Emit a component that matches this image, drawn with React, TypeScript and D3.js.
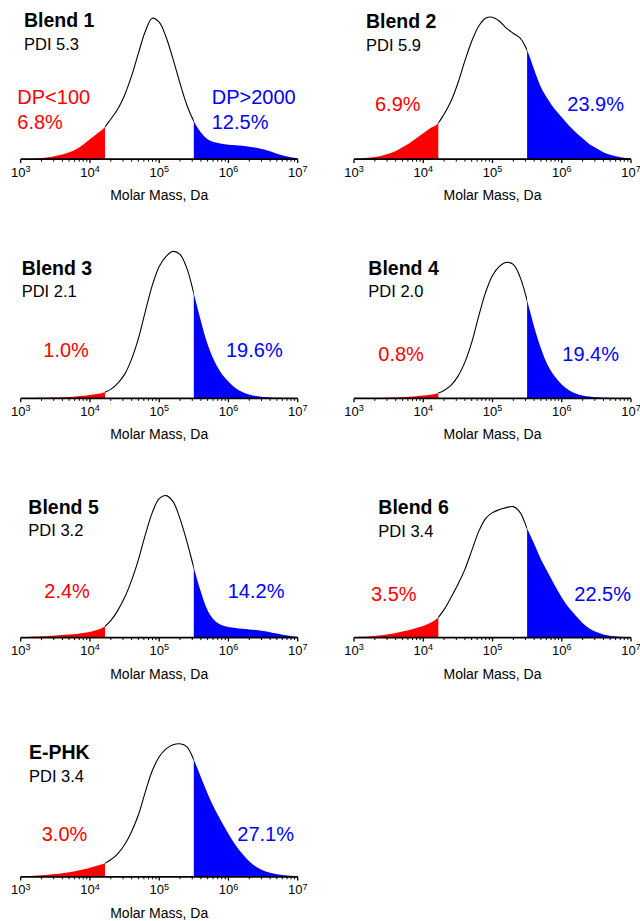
import React from "react";
import * as d3 from "d3";

// ---------- data ----------
const logM = [
  3.0, 3.1, 3.2, 3.3, 3.4, 3.5, 3.6, 3.7, 3.8, 3.9,
  4.0, 4.1, 4.2, 4.3, 4.4, 4.5, 4.6, 4.7, 4.8, 4.9,
  5.0, 5.1, 5.2, 5.3, 5.4, 5.5, 5.6, 5.7, 5.8, 5.9,
  6.0, 6.1, 6.2, 6.3, 6.4, 6.5, 6.6, 6.7, 6.8, 6.9, 7.0,
];

const blend1 = [
  0.3, 0.5, 0.8, 1.3, 2, 3.3, 4.8, 7, 10, 14.5,
  20, 25.5, 31, 40, 50, 64, 83, 106, 128, 141,
  137, 122, 100, 76, 54, 38, 27, 20, 17, 15.5,
  14.5, 14, 13.5, 12.5, 11.5, 10, 8, 5.5, 3.5, 2, 1,
];
const blend2 = [
  0.5, 0.8, 1.4, 2.2, 3.5, 5.5, 8, 12, 16, 21,
  26, 31, 35, 45, 58, 76, 98, 118, 133, 141,
  142, 138, 131, 126, 121, 109, 90, 72, 60, 50,
  42, 34, 27, 21, 15, 11, 7, 4.5, 2.8, 1.5, 0.8,
];
const blend3 = [
  0.2, 0.3, 0.4, 0.55, 0.7, 0.9, 1.2, 1.5, 2, 2.6,
  3.3, 4.3, 5.8, 9, 15, 24, 39, 60, 87, 113,
  132, 142, 147, 144, 130, 105, 78, 54, 37, 25,
  17, 10.5, 6.5, 4, 2.4, 1.5, 1, 0.7, 0.5, 0.4, 0.3,
];
const blend4 = [
  0.2, 0.25, 0.3, 0.4, 0.5, 0.7, 0.9, 1.2, 1.6, 2.1,
  2.8, 3.6, 5, 8, 13, 22, 36, 56, 82, 106,
  123, 132, 136, 134, 121, 98, 72, 50, 33, 22,
  14, 8.5, 5, 3, 1.8, 1.1, 0.7, 0.5, 0.4, 0.3, 0.2,
];
const blend5 = [
  0.5, 0.7, 1, 1.3, 1.6, 2, 2.5, 3, 3.7, 4.6,
  5.7, 7.5, 10.5, 17, 27, 40, 57, 78, 103, 125,
  139, 142, 136, 119, 96, 70, 46, 27, 17, 12.5,
  10.5, 9.5, 8.8, 8.2, 7.5, 6.6, 5.4, 4, 2.7, 1.6, 0.8,
];
const blend6 = [
  0.5, 0.8, 1.2, 1.7, 2.4, 3.3, 4.5, 6, 7.7, 9.6,
  11.7, 14.5, 19, 28, 40, 53, 68, 87, 106, 119,
  125, 128, 130, 131, 125, 109, 94, 78, 65, 52,
  40, 30, 22, 14.5, 9, 5.5, 3.2, 1.8, 1, 0.6, 0.3,
];
const ephk = [
  0.5, 0.8, 1.1, 1.5, 2, 2.7, 3.5, 4.5, 5.7, 7.2,
  9, 11, 13, 17, 23, 32, 45, 62, 85, 106,
  120, 128, 132, 133, 130, 117, 100, 83, 68, 55,
  43, 32, 23, 15.5, 10, 6.3, 4, 2.6, 1.6, 1, 0.6,
];

const series = [blend1, blend2, blend3, blend4, blend5, blend6, ephk];
const titles = ["Blend 1", "Blend 2", "Blend 3", "Blend 4", "Blend 5", "Blend 6", "E-PHK"];
const pdiLabels = ["PDI 5.3", "PDI 5.9", "PDI 2.1", "PDI 2.0", "PDI 3.2", "PDI 3.4", "PDI 3.4"];
const lowPct = ["6.8%", "6.9%", "1.0%", "0.8%", "2.4%", "3.5%", "3.0%"];
const highPct = ["12.5%", "23.9%", "19.6%", "19.4%", "14.2%", "22.5%", "27.1%"];
const lowCut = 16500; // DP < 100
const highCut = 316000; // DP > 2000
const majorTicks = [1e3, 1e4, 1e5, 1e6, 1e7];
const tickExponents = ["3", "4", "5", "6", "7"];
const axisTitle = "Molar Mass, Da";

// ---------- layout ----------
const colX = [20.7, 354];
const rowBase = 159.2;
const rowStep = 239.2;
const axisW = 277;
const labelLayout = [
  { tx: 3.3, ty: -132.5, py: -109, rx: -3.4, ry: -30.7, bx: 191, by: -30.7 },
  { tx: 12, ty: -130.9, py: -108.5, rx: 21, ry: -48, bx: 213.3, by: -48 },
  { tx: 1, ty: -123.4, py: -101, rx: 22.6, ry: -41.7, bx: 205.3, by: -41.7 },
  { tx: 14.3, ty: -123.4, py: -101, rx: 24.3, ry: -37.7, bx: 208.3, by: -37.7 },
  { tx: 7.6, ty: -124, py: -101.7, rx: 23.6, ry: -40, bx: 207, by: -40 },
  { tx: 24.3, ty: -123.4, py: -101, rx: 17, ry: -36.7, bx: 220.3, by: -36.7 },
  { tx: 8.3, ty: -117.4, py: -95, rx: 21, ry: -36, bx: 216.6, by: -36 },
];

const FONT = "'Liberation Sans', Arial, Helvetica, sans-serif";
const RED = "#ff0000";
const BLUE = "#0000ff";

const x = d3.scaleLog().domain([1e3, 1e7]).range([0, axisW]);
const y = d3.scaleLinear().domain([0, 150]).range([0, -150]);

const minorTicks: number[] = [];
[1e3, 1e4, 1e5, 1e6].forEach((d) => {
  for (let k = 2; k <= 9; k++) minorTicks.push(k * d);
});

const curve = d3.curveCatmullRom.alpha(0.5);

function Panel({ i }: { i: number }) {
  const col = i % 2;
  const row = Math.floor(i / 2);
  const x0 = colX[col];
  const base = rowBase + rowStep * row;
  const vals = series[i];
  const pts: [number, number][] = logM.map((lm, j) => [Math.pow(10, lm), vals[j]]);
  const area = d3
    .area<[number, number]>()
    .x((d) => x(d[0]))
    .y0(0)
    .y1((d) => Math.min(0, y(d[1])))
    .curve(curve);
  const line = d3
    .line<[number, number]>()
    .x((d) => x(d[0]))
    .y((d) => y(d[1]))
    .curve(curve);
  const L = labelLayout[i];
  const xl = x(lowCut);
  const xh = x(highCut);
  const id = `p${i}`;
  return (
    <g transform={`translate(${x0},${base})`}>
      <defs>
        <clipPath id={`${id}-lo`}>
          <rect x={-5} y={-200} width={xl + 5} height={200} />
        </clipPath>
        <clipPath id={`${id}-hi`}>
          <rect x={xh} y={-200} width={axisW - xh + 5} height={200} />
        </clipPath>
        <clipPath id={`${id}-mid`}>
          <rect x={xl} y={-200} width={xh - xl} height={201} />
        </clipPath>
      </defs>
      <path d={area(pts) || ""} fill={RED} clipPath={`url(#${id}-lo)`} />
      <path d={area(pts) || ""} fill={BLUE} clipPath={`url(#${id}-hi)`} />
      <path
        d={line(pts) || ""}
        fill="none"
        stroke="#000"
        strokeWidth={1.1}
        clipPath={`url(#${id}-mid)`}
      />
      {/* axis */}
      <line x1={0} x2={axisW} y1={0} y2={0} stroke="#000" strokeWidth={1.8} />
      {majorTicks.map((t) => (
        <line key={`M${t}`} x1={x(t)} x2={x(t)} y1={0} y2={3.8} stroke="#000" strokeWidth={1.3} />
      ))}
      {minorTicks.map((t) => (
        <line key={`m${t}`} x1={x(t)} x2={x(t)} y1={0} y2={2.5} stroke="#000" strokeWidth={1} />
      ))}
      {majorTicks.map((t, k) => (
        <text
          key={`l${t}`}
          x={x(t)}
          y={17.5}
          textAnchor="middle"
          fontFamily={FONT}
          fontSize={13}
          fill="#000"
        >
          10
          <tspan dy={-4.6} fontSize={9}>
            {tickExponents[k]}
          </tspan>
        </text>
      ))}
      <text
        x={axisW / 2}
        y={41}
        textAnchor="middle"
        fontFamily={FONT}
        fontSize={14}
        fill="#000"
      >
        {axisTitle}
      </text>
      {/* labels */}
      <text x={L.tx} y={L.ty} fontFamily={FONT} fontSize={19.5} fontWeight="bold" fill="#000">
        {titles[i]}
      </text>
      <text x={L.tx} y={L.py} fontFamily={FONT} fontSize={16.5} fill="#000">
        {pdiLabels[i]}
      </text>
      {i === 0 && (
        <text x={L.rx} y={L.ry - 25} fontFamily={FONT} fontSize={20} fill={RED}>
          DP&lt;100
        </text>
      )}
      {i === 0 && (
        <text x={L.bx} y={L.by - 25} fontFamily={FONT} fontSize={20} fill={BLUE}>
          DP&gt;2000
        </text>
      )}
      <text x={L.rx} y={L.ry} fontFamily={FONT} fontSize={20} fill={RED}>
        {lowPct[i]}
      </text>
      <text x={L.bx} y={L.by} fontFamily={FONT} fontSize={20} fill={BLUE}>
        {highPct[i]}
      </text>
    </g>
  );
}

export default function App() {
  return (
    <svg
      width={640}
      height={921}
      viewBox="0 0 640 921"
      style={{ position: "absolute", left: 0, top: 0, background: "#fff" }}
    >
      <rect width={640} height={921} fill="#fff" />
      {series.map((_, i) => (
        <Panel key={i} i={i} />
      ))}
    </svg>
  );
}
